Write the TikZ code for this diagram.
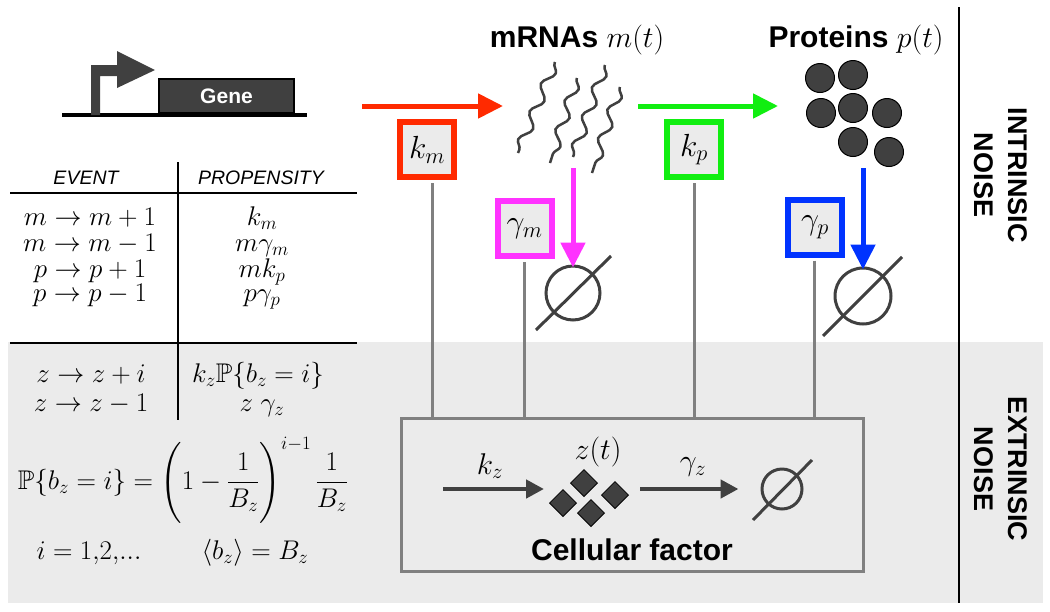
\RequirePackage{fix-cm}
\documentclass[tikz,border=0pt]{standalone}
\usepackage{amsmath,amssymb}
\usepackage{fontspec}
\setsansfont{Liberation Sans}
\usetikzlibrary{arrows.meta,decorations.pathmorphing,calc}
\definecolor{bggray}{HTML}{EBEBEB}
\definecolor{dk}{HTML}{404040}
\definecolor{myred}{HTML}{FF2A00}
\definecolor{mygreen}{HTML}{11EE11}
\definecolor{mymag}{HTML}{FF33FF}
\definecolor{myblue}{HTML}{0033FF}
\definecolor{conn}{HTML}{808080}
\tikzset{
  mtxt/.style={font=\fontsize{27}{30}\selectfont, inner sep=0pt},
  hdr/.style={font=\fontsize{19.5}{22}\selectfont\sffamily\itshape, inner sep=0pt},
  bigsans/.style={font=\fontsize{30}{34}\selectfont\sffamily\bfseries, inner sep=0pt},
  sidelab/.style={font=\fontsize{27}{34}\selectfont\sffamily\bfseries, align=center, rotate=-90, inner sep=0pt},
  ratebox/.style={draw=#1, line width=6pt, fill=bggray, minimum width=54pt, minimum height=55pt, inner sep=0pt, font=\fontsize{32}{34}\selectfont},
  fatarrow/.style={line width=5pt, -{Triangle[length=25pt,width=24pt]}, draw=#1},
  darrow/.style={line width=4.5pt, dk, -{Triangle[length=18pt,width=18pt]}},
  connector/.style={line width=3pt, conn},
  emptyset/.style={circle, draw=dk, line width=3pt, minimum size=#1, inner sep=0pt},
  prot/.style={circle, fill=dk, draw=black, line width=1pt, minimum size=29pt, inner sep=0pt},
  diam/.style={rectangle, rotate=45, fill=dk, draw=black, line width=0.8pt, minimum size=19pt, inner sep=0pt},
  squig/.style={dk, line width=2.5pt, decorate, decoration={snake, segment length=30pt, amplitude=5pt, pre length=1pt, post length=1pt}},
  tline/.style={line width=2.5pt, black}
}
\begin{document}
\begin{tikzpicture}[x=1pt,y=-1pt]
\useasboundingbox (0,0) rectangle (1050,611);
\fill[white] (0,0) rectangle (1050,611);
\fill[bggray] (8,342) rectangle (1043,603);
% separator
\draw[tline] (959,7) -- (959,603);
% gene
\draw[line width=3.5pt, black] (62,115) -- (307,115);
\fill[dk] (91,115) -- (91,65) -- (117,65) -- (117,51) -- (155,70) -- (117,88) -- (117,76) -- (100,76) -- (100,115) -- cycle;
\node[draw=black, fill=dk, line width=2pt, minimum width=135pt, minimum height=34pt, inner sep=0pt,
      font=\fontsize{21}{24}\selectfont\sffamily\bfseries, text=white] (gene) at (226.5,96) {Gene};
% table
\draw[tline] (178,162) -- (178,420);
\draw[tline] (10,193) -- (357,193);
\draw[tline] (10,343) -- (357,343);
\node[hdr] (hev) at (86,178) {EVENT};
\node[hdr] (hpr) at (261,178) {PROPENSITY};
\node[mtxt, anchor=base] (e1) at (90,225) {$m \to m+1$};
\node[mtxt, anchor=base] (e2) at (90,251) {$m \to m-1$};
\node[mtxt, anchor=base] (e3) at (90,277) {$p \to p+1$};
\node[mtxt, anchor=base] (e4) at (90,301) {$p \to p-1$};
\node[mtxt, anchor=base] (p1) at (262,225) {$k_m$};
\node[mtxt, anchor=base] (p2) at (262,251) {$m\gamma_m$};
\node[mtxt, anchor=base] (p3) at (262,277) {$mk_p$};
\node[mtxt, anchor=base] (p4) at (262,301) {$p\gamma_p$};
\node[mtxt, anchor=base] (e5) at (91,382) {$z \to z+i$};
\node[mtxt, anchor=base] (e6) at (91,411) {$z \to z-1$};
\node[mtxt, anchor=base] (p5) at (258,382) {$k_z\mathbb{P}\{b_z=i\}$};
\node[mtxt, anchor=base] (p6) at (262,411) {$z\;\gamma_z$};
\node[mtxt] (f1) at (183,480) {$\displaystyle \mathbb{P}\{b_z=i\} = \left(\vrule height 34pt depth 34pt width 0pt 1-\frac{1}{B_z}\right)^{i-1}\frac{1}{B_z}$};
\node[mtxt, anchor=base] (f2) at (89,559) {$i=1{,}2{,}...$};
\node[mtxt, anchor=base] (f3) at (255,559) {$\langle b_z\rangle = B_z$};
% top labels
\node[bigsans] (mlab) at (577,40) {mRNAs \textmd{$m(t)$}};
\node[bigsans] (plab) at (856,40) {Proteins \textmd{$p(t)$}};
% mRNA squiggles
\coordinate (s1a) at (555,62); \coordinate (s1b) at (518,153);
\coordinate (s2a) at (577,78); \coordinate (s2b) at (550,163);
\coordinate (s3a) at (605,65); \coordinate (s3b) at (573,157);
\coordinate (s4a) at (620,87); \coordinate (s4b) at (592,173);
\draw[squig] (s1a) -- (s1b);
\draw[squig] (s2a) -- (s2b);
\draw[squig] (s3a) -- (s3b);
\draw[squig] (s4a) -- (s4b);
% proteins
\node[prot] (c1) at (820,78) {};
\node[prot] (c2) at (853,75) {};
\node[prot] (c3) at (821,113) {};
\node[prot] (c4) at (853,108) {};
\node[prot] (c5) at (887,113) {};
\node[prot] (c6) at (853,142) {};
\node[prot] (c7) at (889,152) {};
% arrows
\coordinate (rA) at (362,106); \coordinate (rB) at (503,106);
\coordinate (gA) at (638,106); \coordinate (gB) at (778,106);
\draw[fatarrow=myred] (rA) -- (rB);
\draw[fatarrow=mygreen] (gA) -- (gB);
% empty sets
\node[emptyset=54pt] (o1) at (573,293) {};
\draw[line width=3pt, dk] ($(o1.center)+(-37,37)$) -- ($(o1.center)+(38,-37)$);
\node[emptyset=56pt] (o2) at (863,296) {};
\draw[line width=3pt, dk] ($(o2.center)+(-40,40)$) -- ($(o2.center)+(39,-39)$);
\coordinate (mB) at (573,168); \coordinate (pB) at (863,168);
\draw[fatarrow=mymag] (mB) -- ([yshift=-3pt]o1.north);
\draw[fatarrow=myblue] (pB) -- ([yshift=-3pt]o2.north);
% rate boxes
\node[ratebox=myred] (km) at (427,149.5) {$k_m$};
\node[ratebox=mymag] (gm) at (524.5,228.5) {$\gamma_m$};
\node[ratebox=mygreen] (kp) at (694,149.5) {$k_p$};
\node[ratebox=myblue] (gp) at (815,227) {$\gamma_p$};
% cellular factor box
\node[draw=conn, line width=3pt, minimum width=462pt, minimum height=153pt, inner sep=0pt] (cf) at (632.5,495) {};
\draw[connector] ([xshift=5pt,yshift=-3pt]km.south) -- ([xshift=5pt]km.south |- cf.north);
\draw[connector] ([yshift=-3pt]gm.south) -- (gm.south |- cf.north);
\draw[connector] ([yshift=-3pt]kp.south) -- (kp.south |- cf.north);
\draw[connector] ([xshift=-1pt,yshift=-3pt]gp.south) -- ([xshift=-1pt]gp.south |- cf.north);
% inside cellular factor
\node[diam] (d1) at (584,483) {};
\node[diam] (d2) at (563,503) {};
\node[diam] (d3) at (591,513) {};
\node[diam] (d4) at (615,495) {};
\node[mtxt, font=\fontsize{30}{32}\selectfont] (zt) at (598,452) {$z(t)$};
\node[emptyset=40pt] (o3) at (782,489) {};
\draw[line width=3pt, dk] ($(o3.center)+(-29,31)$) -- ($(o3.center)+(30,-29)$);
\coordinate (kzA) at (443,489);
\draw[darrow] (kzA) -- ([xshift=-12pt]d2.west |- kzA);
\draw[darrow] ([xshift=18pt]d4.east |- kzA) -- ([xshift=-22pt]o3.west);
\node[mtxt, font=\fontsize{30}{32}\selectfont] (kzl) at (490,466) {$k_z$};
\node[mtxt, font=\fontsize{30}{32}\selectfont] (gzl) at (693,467) {$\gamma_z$};
\node[bigsans] (cfl) at (632,550) {Cellular factor};
% side labels
\node[sidelab] (intr) at (1001,175) {INTRINSIC\\NOISE};
\node[sidelab] (extr) at (1001,469) {EXTRINSIC\\NOISE};
\end{tikzpicture}
\end{document}
